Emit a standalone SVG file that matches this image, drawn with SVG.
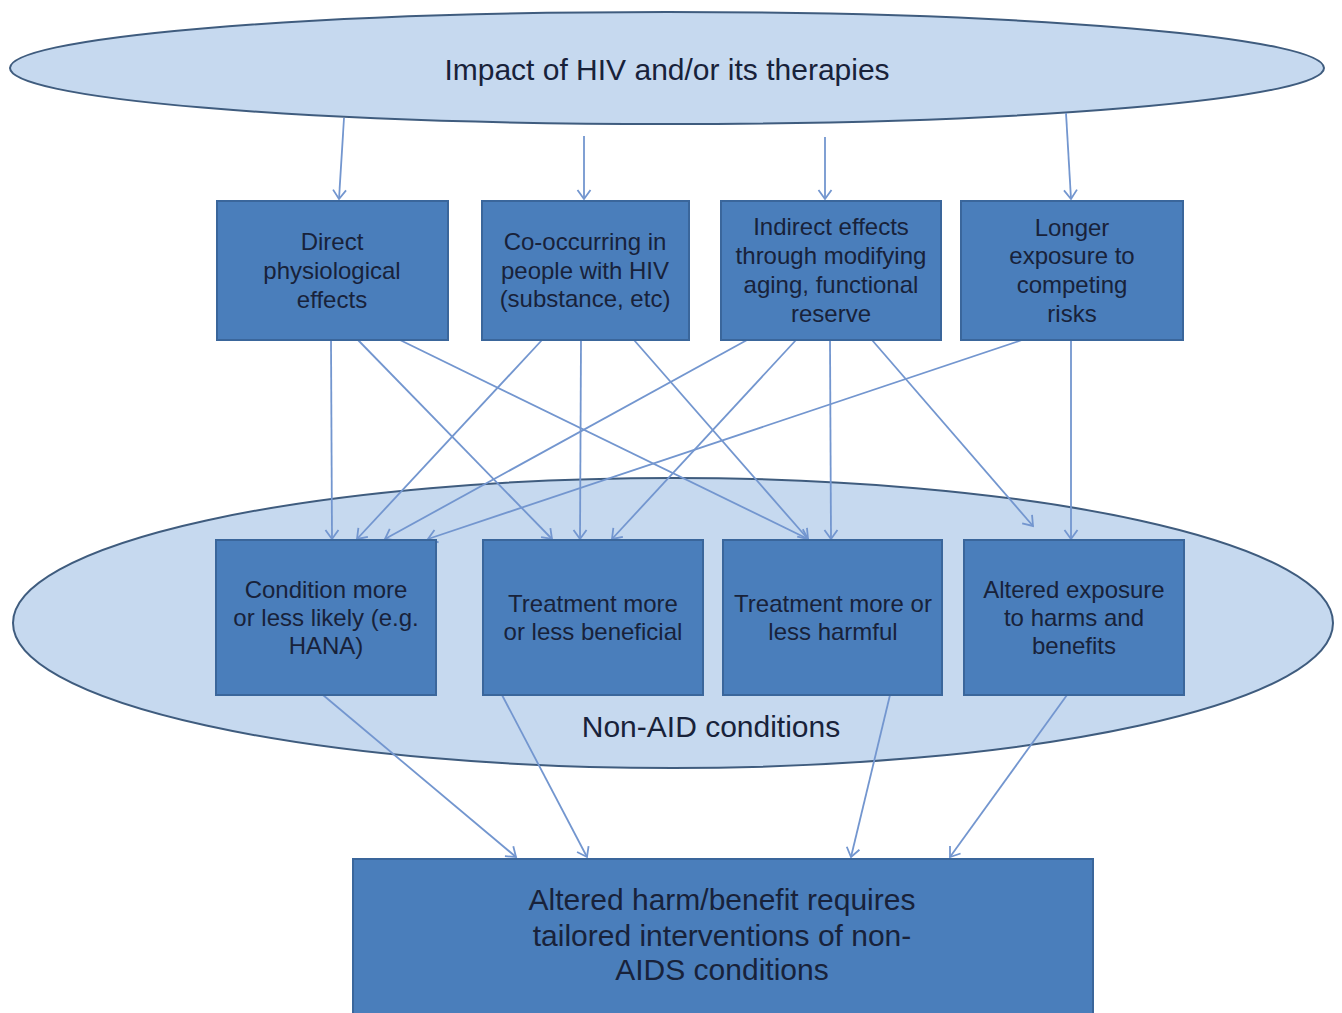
<svg xmlns="http://www.w3.org/2000/svg" width="1342" height="1013" viewBox="0 0 1342 1013">
<style>
.ell{fill:#c6d9ef;stroke:#3f5c7e;stroke-width:2}
.box{fill:#4a7ebb;stroke:#3a669b;stroke-width:2}
.t{font-family:"Liberation Sans",Arial,sans-serif;fill:#18223a;text-anchor:middle}
.s{font-size:24px}
.l{font-size:30px}
.c{fill:none;stroke:#7396cf;stroke-width:1.8;marker-end:url(#ah)}
</style>
<defs>
<marker id="ah" markerUnits="userSpaceOnUse" markerWidth="24" markerHeight="24" refX="12" refY="12" orient="auto" viewBox="0 0 24 24">
<path d="M3,5.5 L12,12 L3,18.5" fill="none" stroke="#7396cf" stroke-width="1.8"/>
</marker>
</defs>
<rect width="1342" height="1013" fill="#ffffff"/>
<g id="top-ellipse">
<ellipse class="ell" cx="667" cy="68" rx="657" ry="56"/>
<text class="t l" x="667" y="80">Impact of HIV and/or its therapies</text>
</g>
<g id="nonaid-ellipse">
<ellipse class="ell" cx="673" cy="623" rx="660" ry="145"/>
<text class="t l" x="711" y="737">Non-AID conditions</text>
</g>
<g id="connectors">
<line class="c" x1="344" y1="118" x2="339" y2="199"/>
<line class="c" x1="584" y1="136" x2="584" y2="199"/>
<line class="c" x1="825" y1="137" x2="825" y2="199"/>
<line class="c" x1="1066" y1="113" x2="1071" y2="199"/>
<line class="c" x1="331" y1="340" x2="332" y2="539"/>
<line class="c" x1="358" y1="340" x2="552" y2="539"/>
<line class="c" x1="400" y1="340" x2="808" y2="539"/>
<line class="c" x1="542" y1="340" x2="357" y2="539"/>
<line class="c" x1="581" y1="340" x2="580" y2="539"/>
<line class="c" x1="634" y1="340" x2="808" y2="539"/>
<line class="c" x1="747" y1="340" x2="385" y2="539"/>
<line class="c" x1="796" y1="340" x2="612" y2="539"/>
<line class="c" x1="830" y1="340" x2="831" y2="539"/>
<line class="c" x1="872" y1="340" x2="1033" y2="526"/>
<line class="c" x1="1022" y1="340" x2="428" y2="539"/>
<line class="c" x1="1071" y1="340" x2="1071" y2="539"/>
<line class="c" x1="323" y1="695" x2="516" y2="857"/>
<line class="c" x1="502" y1="695" x2="587" y2="857"/>
<line class="c" x1="890" y1="695" x2="851" y2="857"/>
<line class="c" x1="1067" y1="695" x2="950" y2="857"/>
</g>
<g id="n-direct">
<rect class="box" x="217" y="201" width="231" height="139"/>
<text class="t s" x="332" y="250">Direct</text>
<text class="t s" x="332" y="279">physiological</text>
<text class="t s" x="332" y="308">effects</text>
</g>
<g id="n-cooccurring">
<rect class="box" x="482" y="201" width="207" height="139"/>
<text class="t s" x="585" y="250">Co-occurring in</text>
<text class="t s" x="585" y="279">people with HIV</text>
<text class="t s" x="585" y="307">(substance, etc)</text>
</g>
<g id="n-indirect">
<rect class="box" x="721" y="201" width="220" height="139"/>
<text class="t s" x="831" y="235">Indirect effects</text>
<text class="t s" x="831" y="264">through modifying</text>
<text class="t s" x="831" y="293">aging, functional</text>
<text class="t s" x="831" y="322">reserve</text>
</g>
<g id="n-longer">
<rect class="box" x="961" y="201" width="222" height="139"/>
<text class="t s" x="1072" y="236">Longer</text>
<text class="t s" x="1072" y="264">exposure to</text>
<text class="t s" x="1072" y="293">competing</text>
<text class="t s" x="1072" y="322">risks</text>
</g>
<g id="n-condition">
<rect class="box" x="216" y="540" width="220" height="155"/>
<text class="t s" x="326" y="598">Condition more</text>
<text class="t s" x="326" y="626">or less likely (e.g.</text>
<text class="t s" x="326" y="654">HANA)</text>
</g>
<g id="n-beneficial">
<rect class="box" x="483" y="540" width="220" height="155"/>
<text class="t s" x="593" y="612">Treatment more</text>
<text class="t s" x="593" y="640">or less beneficial</text>
</g>
<g id="n-harmful">
<rect class="box" x="723" y="540" width="219" height="155"/>
<text class="t s" x="833" y="612">Treatment more or</text>
<text class="t s" x="833" y="640">less harmful</text>
</g>
<g id="n-altered-exposure">
<rect class="box" x="964" y="540" width="220" height="155"/>
<text class="t s" x="1074" y="598">Altered exposure</text>
<text class="t s" x="1074" y="626">to harms and</text>
<text class="t s" x="1074" y="654">benefits</text>
</g>
<g id="n-altered-harm">
<rect class="box" x="353" y="859" width="740" height="160"/>
<text class="t l" x="722" y="910">Altered harm/benefit requires</text>
<text class="t l" x="722" y="946">tailored interventions of non-</text>
<text class="t l" x="722" y="980">AIDS conditions</text>
</g>
</svg>
